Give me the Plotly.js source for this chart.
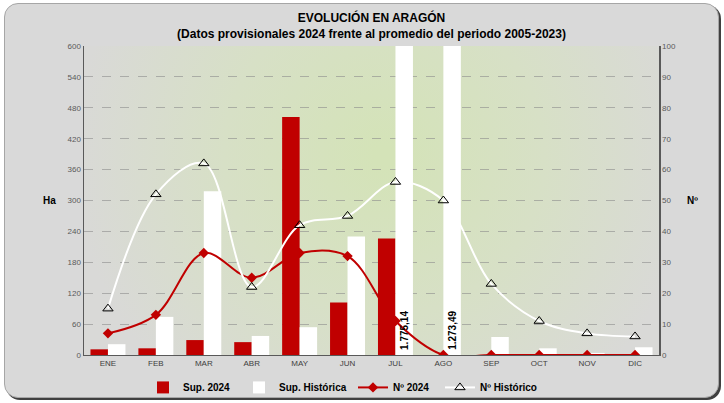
<!DOCTYPE html>
<html>
<head>
<meta charset="utf-8">
<script src="https://cdn.plot.ly/plotly-3.0.1.min.js"></script>
<style>
  html, body { margin:0; padding:0; background:#ffffff; }
  #wrap { position:relative; width:724px; height:403px; overflow:hidden; }
  #frame { position:absolute; left:4px; top:3px; width:713px; height:393px;
           background:#d9d9d9; border:1px solid #a6a6a6; border-radius:14px;
           box-shadow:2px 2px 0 #404040; }
  #chart { position:absolute; left:0; top:0; width:724px; height:403px; }
</style>
</head>
<body>
<div id="wrap"><div id="frame"></div><div id="chart"></div></div>
<script>
const months = ['ENE','FEB','MAR','ABR','MAY','JUN','JUL','AGO','SEP','OCT','NOV','DIC'];
const sup2024 = [11, 13, 29, 25, 462, 102, 226, 0, 0, 0, 0, 0];
const supHistorica = [21, 74, 318, 37, 54, 230, 1775.14, 1273.49, 35, 13, 4, 15];
const n2024 = [7, 13, 33, 25, 33, 32, 11, 0, 0, 0, 0, 0];
const nHistorico = [15, 52, 62, 22, 42, 45, 56, 50, 23, 11, 7, 6];
const leftMax = 600;

function fmtEs(v) {
  const parts = v.toFixed(2).split('.');
  const intp = parts[0].replace(/\B(?=(\d{3})+(?!\d))/g, '.');
  return intp + ',' + parts[1];
}

// background radial gradient for plot area
const cv = document.createElement('canvas');
cv.width = 575; cv.height = 309;
const ctx = cv.getContext('2d');
ctx.fillStyle = '#d9d9d6';
ctx.fillRect(0, 0, cv.width, cv.height);
const g = ctx.createRadialGradient(300, 110, 10, 300, 110, 310);
g.addColorStop(0, '#d4e3b8');
g.addColorStop(0.5, '#d7e0c6');
g.addColorStop(1, '#d9d9d7');
ctx.fillStyle = g;
ctx.fillRect(0, 0, cv.width, cv.height);
const bgUrl = cv.toDataURL('image/png');

const font = 'Liberation Sans, Arial, sans-serif';

const traces = [
  { type:'bar', name:'Sup. 2024', x:months, y:sup2024, marker:{color:'#c00000'}, yaxis:'y', legend:'legend' },
  { type:'bar', name:'Sup. Histórica', x:months, y:supHistorica, marker:{color:'#ffffff'}, yaxis:'y', legend:'legend2' },
  { type:'scatter', mode:'lines+markers', name:'Nº 2024', x:months, y:n2024, yaxis:'y2', legend:'legend3',
    line:{color:'#c00000', width:2, shape:'spline', smoothing:1},
    marker:{symbol:'diamond', size:8, color:'#c00000'} },
  { type:'scatter', mode:'lines+markers', name:'Nº Histórico', x:months, y:nHistorico, yaxis:'y2', legend:'legend4',
    line:{color:'#ffffff', width:2, shape:'spline', smoothing:1},
    marker:{symbol:'triangle-up-open', size:9, color:'#000000', line:{width:1}} }
];

const annotations = [];
supHistorica.forEach((v, i) => {
  if (v > leftMax) {
    annotations.push({ x: months[i], y: 0, xref:'x', yref:'y', text: fmtEs(v), textangle:-90,
      showarrow:false, yanchor:'bottom', xanchor:'center', xshift:9, yshift:3,
      font:{family:font, size:10, color:'#000000', weight:'bold'} });
  }
});
annotations.push({ xref:'paper', yref:'paper', x:0, y:0.5, xshift:-26, xanchor:'right', yanchor:'middle',
  text:'<b>Ha</b>', showarrow:false, font:{family:font, size:10, color:'#000'} });
annotations.push({ xref:'paper', yref:'paper', x:1, y:0.5, xshift:26, xanchor:'left', yanchor:'middle',
  text:'<b>Nº</b>', showarrow:false, font:{family:font, size:10, color:'#000'} });

function leg(x) {
  return { orientation:'h', x:x, xanchor:'left', y:-0.058, yanchor:'top',
           font:{family:font, size:10, color:'#000', weight:'bold'}, bgcolor:'rgba(0,0,0,0)' };
}

const layout = {
  width:724, height:403,
  margin:{l:84, r:65, t:46, b:48, autoexpand:false},
  paper_bgcolor:'rgba(0,0,0,0)',
  plot_bgcolor:'rgba(0,0,0,0)',
  title:{ text:'<b>EVOLUCIÓN EN ARAGÓN</b><br><b>(Datos provisionales 2024 frente al promedio del periodo 2005-2023)</b>',
          font:{family:font, size:12, color:'#000'}, x:0.5, xref:'paper', xanchor:'center',
          y:0.945, yref:'container', yanchor:'middle' },
  barmode:'group', bargap:0.27, bargroupgap:0,
  showlegend:true,
  legend:leg(0.1026), legend2:leg(0.2696), legend3:leg(0.4678), legend4:leg(0.6191),
  xaxis:{ type:'category', range:[-0.5, months.length - 0.5], showgrid:false, showline:true, linecolor:'#595959', linewidth:1,
          tickfont:{family:font, size:8, color:'#404040'}, ticks:'', automargin:false },
  yaxis:{ range:[0, leftMax], dtick:60, tick0:0, showgrid:true, gridcolor:'#8c8c8c', gridwidth:0.6, griddash:'dash',
          showline:true, linecolor:'#595959', linewidth:1.5, zeroline:false, automargin:false,
          tickfont:{family:font, size:8, color:'#595959'}, ticks:'' },
  yaxis2:{ range:[0,100], dtick:10, tick0:0, overlaying:'y', side:'right', showgrid:false,
           showline:true, linecolor:'#595959', linewidth:1.5, zeroline:false, automargin:false,
           tickfont:{family:font, size:8, color:'#595959'}, ticks:'' },
  images:[{ source:bgUrl, xref:'paper', yref:'paper', x:0, y:1, sizex:1, sizey:1,
            xanchor:'left', yanchor:'top', sizing:'stretch', layer:'below' }],
  annotations: annotations
};

Plotly.newPlot('chart', traces, layout, {displayModeBar:false, staticPlot:true});
</script>
</body>
</html>
